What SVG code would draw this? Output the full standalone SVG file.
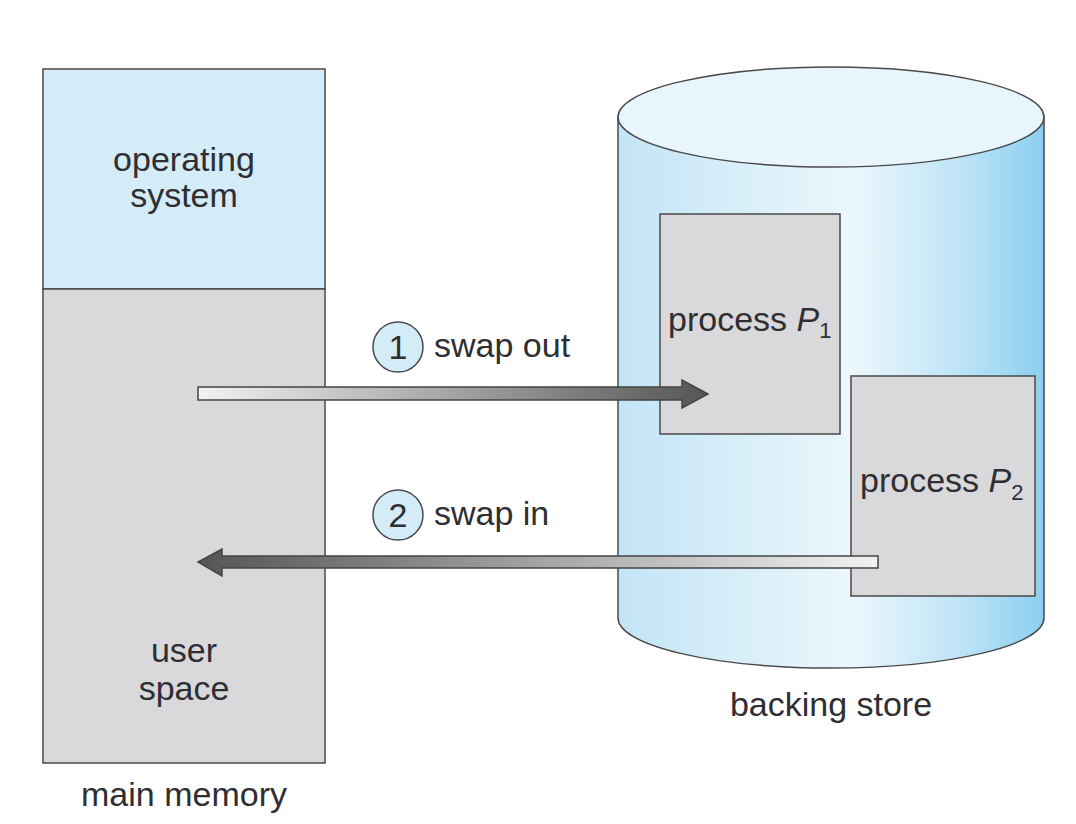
<svg xmlns="http://www.w3.org/2000/svg" width="1076" height="824" viewBox="0 0 1076 824">
<defs>
<linearGradient id="cyl" x1="618" y1="0" x2="1044" y2="0" gradientUnits="userSpaceOnUse">
<stop offset="0" stop-color="#c3e4f6"/>
<stop offset="0.3" stop-color="#d9eff9"/>
<stop offset="0.55" stop-color="#ebf7fc"/>
<stop offset="0.8" stop-color="#bfe4f7"/>
<stop offset="1" stop-color="#8ccff0"/>
</linearGradient>
<linearGradient id="gOut" x1="198" y1="0" x2="708" y2="0" gradientUnits="userSpaceOnUse">
<stop offset="0" stop-color="#f2f2f2"/>
<stop offset="1" stop-color="#555555"/>
</linearGradient>
<linearGradient id="gIn" x1="198" y1="0" x2="878" y2="0" gradientUnits="userSpaceOnUse">
<stop offset="0" stop-color="#555555"/>
<stop offset="1" stop-color="#f2f2f2"/>
</linearGradient>
</defs>
<style>
text{font-family:"Liberation Sans",Arial,Helvetica,sans-serif;font-size:34px;fill:#2e2e33}
.c{text-anchor:middle}
.box{stroke:#4a4a4a;stroke-width:1.5}
.gray{fill:#d9d9db}
.blue{fill:#d4ebf8}
.num{fill:#d4ebf8;stroke:#4a4a4a;stroke-width:1.5}
.arr{stroke:#444;stroke-width:1.5}
</style>
<rect width="1076" height="824" fill="#ffffff"/>

<g id="main-memory">
<rect class="box blue" x="43" y="69" width="282" height="220"/>
<rect class="box gray" x="43" y="289" width="282" height="474"/>
<text class="c" x="184" y="171">operating</text>
<text class="c" x="184" y="207">system</text>
<text class="c" x="184" y="662">user</text>
<text class="c" x="184" y="700">space</text>
<text class="c" x="184" y="806">main memory</text>
</g>

<g id="backing-store">
<path d="M618,117 L618,618 A213,50 0 0 0 1044,618 L1044,117 Z" fill="url(#cyl)" class="box"/>
<ellipse cx="831" cy="117" rx="213" ry="50" fill="#e8f5fc" class="box"/>
<text class="c" x="831" y="716">backing store</text>
</g>

<g id="process-p1">
<rect class="box gray" x="660" y="214" width="180" height="220"/>
<text x="668" y="331">process <tspan font-style="italic">P</tspan><tspan font-size="22" dy="7">1</tspan></text>
</g>

<g id="process-p2">
<rect class="box gray" x="851" y="376" width="184" height="220"/>
<text x="860" y="492">process <tspan font-style="italic">P</tspan><tspan font-size="22" dy="8">2</tspan></text>
</g>

<g id="connectors">
<polygon class="arr" fill="url(#gOut)" points="198,387 682,387 682,380 708,394 682,408 682,400 198,400"/>
<polygon class="arr" fill="url(#gIn)" points="878,556 222,556 222,549 198,562 222,576 222,568 878,568"/>
</g>

<g id="label-swap-out">
<circle class="num" cx="398" cy="347" r="25"/>
<text class="c" x="398" y="359">1</text>
<text x="434" y="357">swap out</text>
</g>

<g id="label-swap-in">
<circle class="num" cx="398" cy="515" r="25"/>
<text class="c" x="398" y="527">2</text>
<text x="434" y="525">swap in</text>
</g>
</svg>
